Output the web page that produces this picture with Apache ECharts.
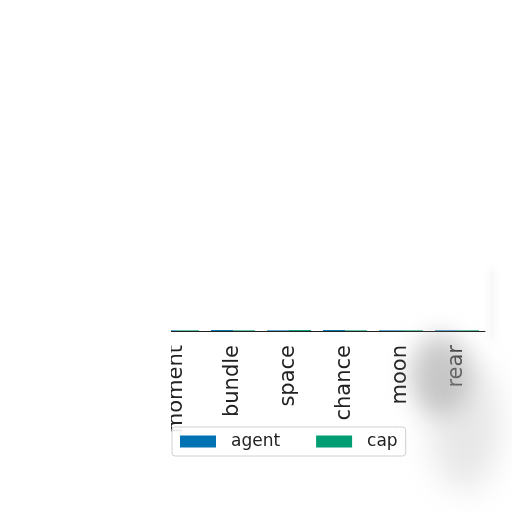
<!DOCTYPE html>
<html>
<head>
<meta charset="utf-8">
<script src="https://cdn.jsdelivr.net/npm/echarts@6/dist/echarts.min.js"></script>
<style>
    html, body { margin: 0; padding: 0; background: #fff; }
    #clip { position: absolute; left: 171px; top: 0; width: 319px; height: 512px; overflow: hidden; }
    #chart { position: absolute; left: -171px; top: 0; width: 512px; height: 512px; }
    .smudge { position: absolute; pointer-events: none; border-radius: 50%; }
</style>
</head>
<body>
<div id="clip"><div id="chart"></div></div>
<div class="smudge" style="left:410px;top:335px;width:60px;height:80px;background:rgba(150,150,150,0.5);filter:blur(12px);"></div>
<div class="smudge" style="left:430px;top:360px;width:70px;height:130px;background:rgba(175,175,175,0.3);filter:blur(16px);"></div>
<div class="smudge" style="left:489px;top:270px;width:6px;height:70px;background:rgba(215,215,215,0.25);filter:blur(3px);border-radius:0;"></div>
<script>
    var categories = ['moment', 'bundle', 'space', 'chance', 'moon', 'rear'];
    var agentData = [0.2, 0.3, 0.2, 0.3, 0.2, 0.2];
    var capData = [0.2, 0.2, 0.3, 0.2, 0.2, 0.2];
    var axisColor = '#222';

    var option = {
        animation: false,
        color: ['#0173b2', '#029e73'],
        legend: {
            left: 172,
            top: 427,
            padding: [6, 8, 6, 8],
            itemWidth: 36,
            itemHeight: 12,
            itemGap: 36,
            backgroundColor: 'rgba(255,255,255,0.9)',
            borderColor: '#d0d0d0',
            borderWidth: 1,
            borderRadius: 3,
            icon: 'rect',
            textStyle: { color: '#222', fontSize: 17, fontFamily: 'DejaVu Sans', padding: [0, 0, 0, 10] },
            data: ['agent', 'cap']
        },
        grid: {
            left: 149,
            right: 27,
            top: 10,
            bottom: 181
        },
        xAxis: {
            type: 'category',
            data: categories,
            axisLine: { lineStyle: { color: axisColor, width: 1 } },
            axisTick: { alignWithLabel: true, length: 5, lineStyle: { color: axisColor } },
            axisLabel: { rotate: 90, margin: 14, color: '#222', fontSize: 21, fontFamily: 'DejaVu Sans' },
            splitLine: { show: false }
        },
        yAxis: {
            type: 'value',
            min: 0,
            max: 100,
            show: false
        },
        series: [{
            name: 'agent',
            type: 'bar',
            barWidth: 22,
            barGap: 0,
            data: agentData
        }, {
            name: 'cap',
            type: 'bar',
            barWidth: 22,
            barGap: 0,
            data: capData
        }]
    };
    var chart = echarts.init(document.getElementById('chart'));
    chart.setOption(option);
</script>
</body>
</html>
